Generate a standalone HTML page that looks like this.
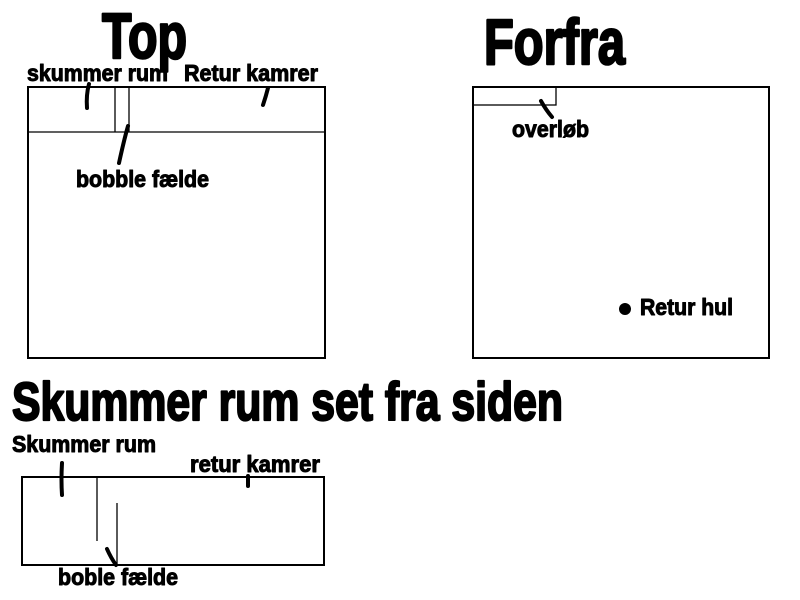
<!DOCTYPE html>
<html><head><style>html,body{margin:0;padding:0;background:#fff;}svg{display:block}</style></head>
<body>
<svg width="800" height="600" viewBox="0 0 800 600" xmlns="http://www.w3.org/2000/svg">
<g font-family="'Liberation Sans Narrow','Liberation Sans',sans-serif" font-weight="bold" fill="#000" stroke="#000" stroke-linejoin="round">
<text x="102" y="58" font-size="64" stroke-width="2.5" textLength="85" lengthAdjust="spacingAndGlyphs">Top</text>
<text x="484" y="64" font-size="64" stroke-width="2.5" textLength="141" lengthAdjust="spacingAndGlyphs">Forfra</text>
<text x="27" y="81" font-size="23" stroke-width="1" textLength="141" lengthAdjust="spacingAndGlyphs">skummer rum</text>
<text x="184" y="81" font-size="23" stroke-width="1" textLength="134" lengthAdjust="spacingAndGlyphs">Retur kamrer</text>
<text x="76" y="187" font-size="23" stroke-width="1" textLength="133" lengthAdjust="spacingAndGlyphs">bobble fælde</text>
<text x="512" y="137" font-size="23" stroke-width="1" textLength="77" lengthAdjust="spacingAndGlyphs">overløb</text>
<text x="640" y="315" font-size="23" stroke-width="1" textLength="93" lengthAdjust="spacingAndGlyphs">Retur hul</text>
<text x="12" y="420" font-size="54" stroke-width="2.2" textLength="551" lengthAdjust="spacingAndGlyphs">Skummer rum set fra siden</text>
<text x="12" y="452" font-size="23" stroke-width="1" textLength="144" lengthAdjust="spacingAndGlyphs">Skummer rum</text>
<text x="190" y="472" font-size="23" stroke-width="1" textLength="130" lengthAdjust="spacingAndGlyphs">retur kamrer</text>
<text x="58" y="585" font-size="23" stroke-width="1" textLength="120" lengthAdjust="spacingAndGlyphs">boble fælde</text>
</g>
<g fill="none" stroke="#000">
<rect x="28" y="87" width="297" height="271" stroke-width="2"/>
<line x1="28" y1="132" x2="325" y2="132" stroke-width="1.3"/>
<line x1="115" y1="87" x2="115" y2="132" stroke-width="1.3"/>
<line x1="129" y1="87" x2="129" y2="132" stroke-width="1.3"/>
<rect x="473" y="87" width="296" height="271" stroke-width="2"/>
<rect x="473" y="87" width="83" height="18" stroke-width="1.3"/>
<rect x="22" y="477" width="302" height="88" stroke-width="2"/>
<line x1="97" y1="477" x2="97" y2="541" stroke-width="1.3"/>
<line x1="117" y1="503" x2="117" y2="565" stroke-width="1.3"/>
</g>
<g fill="none" stroke="#000" stroke-width="4" stroke-linecap="round">
<path d="M89 84 Q86 95 87 108"/>
<path d="M268 88 Q266 96 263 105"/>
<path d="M128 126 Q124 140 119 163"/>
<path d="M541 101 Q546 110 552 117"/>
<path d="M62 463 Q61 480 62 495"/>
<path d="M248 476 L248 486"/>
<path d="M107 549 Q111 558 116 565"/>
</g>
<circle cx="625" cy="309" r="6" fill="#000"/>
</svg>
</body></html>
